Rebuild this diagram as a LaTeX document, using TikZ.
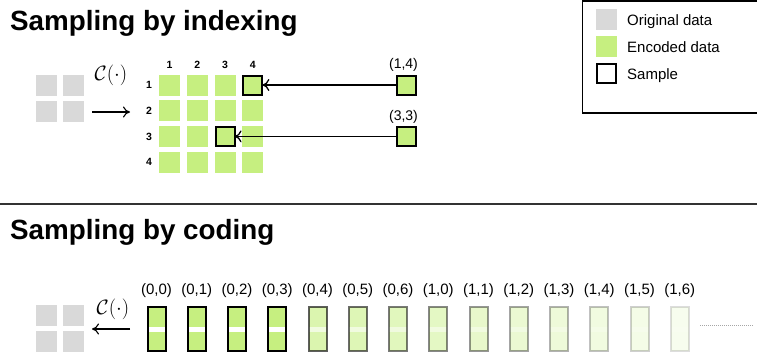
\documentclass[tikz,border=0pt]{standalone}
\usepackage[no-math]{fontspec}
\setmainfont{Liberation Sans}
\usetikzlibrary{arrows.meta}
\definecolor{encgreen}{RGB}{198,239,128}
\definecolor{origgray}{RGB}{217,217,217}
\tikzset{
  sq/.style={minimum width=21pt, minimum height=21pt, inner sep=0pt, outer sep=0pt},
  orig/.style={sq, fill=origgray},
  enc/.style={sq, fill=encgreen},
  frame/.style={sq, draw=black, line width=2pt, minimum width=19pt, minimum height=19pt},
  pick/.style={frame, fill=encgreen},
  title/.style={font=\fontsize{27.8}{30}\selectfont\bfseries, anchor=base west, inner sep=0pt},
  idx/.style={font=\fontsize{10.5}{12}\selectfont\bfseries, inner sep=0pt},
  coord/.style={font=\fontsize{14}{16}\selectfont, inner sep=0pt},
  tag/.style={font=\fontsize{15}{17}\selectfont, inner sep=0pt},
  legtext/.style={font=\fontsize{15}{17}\selectfont, anchor=base west, inner sep=0pt},
  codec/.style={font=\fontsize{22}{24}\selectfont, inner sep=0pt},
  maparrow/.style={line width=1.1pt, -{To[length=7pt,width=11pt]}},
  link/.style={line width=1.3pt, -{To[length=7pt,width=12pt]}},
  cell/.style={minimum width=18pt, minimum height=44pt, inner sep=0pt, outer sep=0pt,
    fill=encgreen, draw=black, line width=2pt,
    path picture={\fill[white] ([yshift=-2.5pt]path picture bounding box.west)
      rectangle ([yshift=2.5pt]path picture bounding box.east);}},
}
\begin{document}
\begin{tikzpicture}[x=1pt, y=-1pt]
\useasboundingbox (0,0) rectangle (757,351);

% ---- upper panel: sampling by indexing ----
\node[title] (title-idx) at (10,30) {Sampling by indexing};

\node[orig] (o-1) at (46.5,85.5) {};
\node[orig] (o-2) at (73.5,85.5) {};
\node[orig] (o-3) at (46.5,111.5) {};
\node[orig] (o-4) at (73.5,111.5) {};

\node[codec] (enc-label) at (111,75) {$\mathcal{C}(\cdot)$};
\coordinate (enc-a) at (92,112);
\coordinate (enc-b) at (130,112);
\draw[maparrow] (enc-a) -- (enc-b);

% 4x4 grid of encoded entries
\foreach \r in {1,...,4}{
  \node[idx] (row-\r) at (149,{85+25.7*(\r-1)}) {\r};
  \node[idx] (col-\r) at ({169.5+27.8*(\r-1)},65) {\r};
  \foreach \c in {1,...,4}{
    \node[enc] (g-\r-\c) at ({169.5+27.8*(\c-1)},{85+25.7*(\r-1)}) {};
  }
}
\node[pick] (g-1-4) at (g-1-4) {};
\node[pick] (g-3-3) at (g-3-3) {};

% sampled entries and their lookups
\node[pick] (s-14) at (406.5,85) {};
\node[pick] (s-33) at (406.5,136.4) {};
\node[coord] (s-14-label) at (403.5,65) {(1,4)};
\node[coord] (s-33-label) at (403.5,116.5) {(3,3)};
\draw[link] (s-14) -- (g-1-4);
\draw[link] (s-33) -- (g-3-3);

% legend
\draw[line width=1.5pt] (582.5,1) rectangle (760,113);
\node[orig] (leg-orig) at (606.5,19.5) {};
\node[enc] (leg-enc) at (606.5,46.5) {};
\node[frame, fill=white] (leg-pick) at (606.5,73) {};
\node[legtext] (leg-orig-t) at (627,25.5) {Original data};
\node[legtext] (leg-enc-t) at (627,52.5) {Encoded data};
\node[legtext] (leg-pick-t) at (627,79) {Sample};

% separator
\draw[line width=1.2pt, black!80] (0,204) -- (757,204);

% ---- lower panel: sampling by coding ----
\node[title] (title-code) at (10,239) {Sampling by coding};

\node[orig] (p-1) at (46.5,315.5) {};
\node[orig] (p-2) at (73.5,315.5) {};
\node[orig] (p-3) at (46.5,341.5) {};
\node[orig] (p-4) at (73.5,341.5) {};

\node[codec] (dec-label) at (113,309) {$\mathcal{C}(\cdot)$};
\coordinate (dec-a) at (130,329);
\coordinate (dec-b) at (92,329);
\draw[maparrow] (dec-a) -- (dec-b);

\foreach \i in {0,...,13}{
  \pgfmathtruncatemacro\ra{int(\i/7)}
  \pgfmathtruncatemacro\rb{mod(\i,7)}
  \pgfmathsetmacro\op{\i<4 ? 1 : 0.63-0.055*(\i-4)}
  \node[cell, opacity=\op] (cell-\i) at ({156.5+40.25*\i},329) {};
  \node[tag] (tag-\i) at ({156.5+40.25*\i},291) {(\ra,\rb)};
}
\draw[black!35, line width=0.6pt, dash pattern=on 1pt off 1pt] (700,325.7) -- (753,325.7);
\end{tikzpicture}
\end{document}
